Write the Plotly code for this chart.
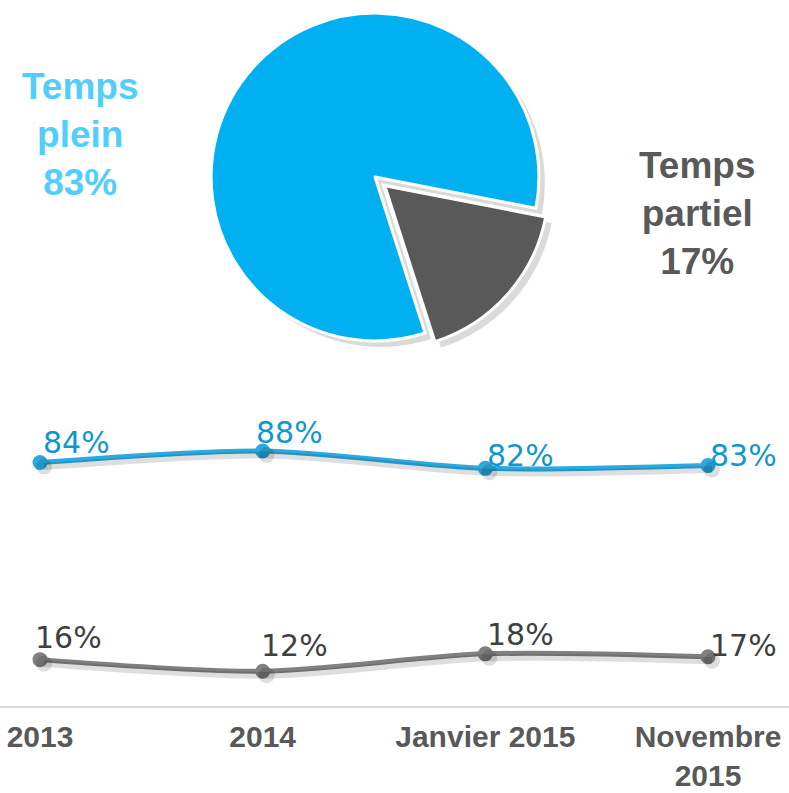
import plotly.graph_objects as go

# ---- data ----
pie_labels = ["Temps partiel", "Temps plein"]
pie_values = [17, 83]

periods = ["2013", "2014", "Janvier 2015", "Novembre<br>2015"]
plein = [84, 88, 82, 83]
partiel = [16, 12, 18, 17]

# label offsets (pixels) relative to each point: (dx to text left, dy to text cap-centre, up positive)
plein_offsets = [(3, 20), (-7, 18), (2, 13), (2, 10)]
partiel_offsets = [(-5, 22), (-2, 26), (2, 19), (2, 11)]

W, H = 789, 793
BLUE_PIE = "#00B0F0"
GRAY_PIE = "#595959"
BLUE_LINE = "#2AAAE0"
BLUE_TXT = "#1196CE"
GRAY_LINE = "#808080"
GRAY_TXT = "#404040"

def fx(px):
    return px / W

def fy(py):
    return (H - py) / H

fig = go.Figure()

# pie shadow
sh = 6
fig.add_trace(go.Pie(
    labels=pie_labels, values=pie_values, sort=False, direction="clockwise",
    rotation=101, pull=[0.08, 0], textinfo="none", hoverinfo="skip",
    marker=dict(colors=["#DADADA", "#DADADA"], line=dict(color="#DADADA", width=0)),
    domain=dict(x=[fx(195 + sh), fx(555 + sh)], y=[fy(354 + sh), fy(0 + sh)]),
    showlegend=False,
))
# main pie
fig.add_trace(go.Pie(
    labels=pie_labels, values=pie_values, sort=False, direction="clockwise",
    rotation=101, pull=[0.08, 0], textinfo="none",
    marker=dict(colors=[GRAY_PIE, BLUE_PIE], line=dict(color="white", width=3)),
    domain=dict(x=[fx(195), fx(555)], y=[fy(354), fy(0)]),
    showlegend=False,
))

# line shadows (on offset axes)
for vals in (plein, partiel):
    fig.add_trace(go.Scatter(
        x=periods, y=vals, mode="lines+markers", xaxis="x2", yaxis="y2",
        line=dict(color="rgba(0,0,0,0.13)", width=7, shape="spline", smoothing=0.8),
        marker=dict(size=16, color="rgba(0,0,0,0.13)"),
        hoverinfo="skip", showlegend=False, cliponaxis=False,
    ))

fig.add_trace(go.Scatter(
    x=periods, y=plein, mode="lines+markers",
    line=dict(color=BLUE_LINE, width=5, shape="spline", smoothing=0.8),
    marker=dict(size=15, color=BLUE_LINE),
    showlegend=False, cliponaxis=False,
))
fig.add_trace(go.Scatter(
    x=periods, y=partiel, mode="lines+markers",
    line=dict(color=GRAY_LINE, width=5, shape="spline", smoothing=0.8),
    marker=dict(size=15, color=GRAY_LINE),
    showlegend=False, cliponaxis=False,
))

label_font = dict(family="DejaVu Sans", size=30)
for vals, offs, col in ((plein, plein_offsets, BLUE_TXT), (partiel, partiel_offsets, GRAY_TXT)):
    for i, (v, (dx, dy)) in enumerate(zip(vals, offs)):
        fig.add_annotation(
            x=i, y=v, xref="x", yref="y", text=f"{v}%", showarrow=False,
            xanchor="left", yanchor="middle", xshift=dx - 1, yshift=dy,
            borderpad=0, font=dict(color=col, **label_font),
        )

# axes: category 0 at 40px, category 3 at 708px
step = (708 - 40) / 3
xlo = -40 / step
xhi = 3 + (W - 708) / step
y_bottom_px, y_top_px = 706, 416.2
ppu = (y_bottom_px - y_top_px) / 100
ydom = [fy(y_bottom_px), fy(y_top_px)]

fig.update_layout(
    width=W, height=H, margin=dict(l=0, r=0, t=0, b=0, autoexpand=False),
    paper_bgcolor="white", plot_bgcolor="rgba(0,0,0,0)",
    xaxis=dict(type="category", range=[xlo, xhi], showgrid=False, zeroline=False,
               showline=True, linecolor="#D9D9D9", linewidth=2, ticks="",
               ticklabelstandoff=3, automargin=False,
               tickfont=dict(family="Liberation Sans, Arial", size=30, color="#595959",
                             weight="bold")),
    yaxis=dict(range=[0, 100], domain=ydom, visible=False, fixedrange=True, automargin=False),
    xaxis2=dict(type="category", overlaying="x", anchor="y2",
                range=[xlo - 4 / step, xhi - 4 / step], visible=False),
    yaxis2=dict(overlaying="y", domain=ydom, anchor="x2",
                range=[4 / ppu, 100 + 4 / ppu], visible=False),
)

# pie labels
pie_label_pos = {"Temps plein": (80, 134, "#52CEFD"), "Temps partiel": (697, 214, "#595959")}
for lab, val in zip(pie_labels, pie_values):
    x, y, c = pie_label_pos[lab]
    fig.add_annotation(
        x=fx(x), y=fy(y), xref="paper", yref="paper", showarrow=False,
        text=lab.replace(" ", "<br>") + f"<br>{val}%", align="center",
        xanchor="center", yanchor="middle",
        font=dict(family="Liberation Sans, Arial", size=37, color=c, weight="bold"),
    )

fig.write_html(
    "out.html",
    config={"displayModeBar": False},
    post_script="document.body.style.margin='0';document.body.style.overflow='hidden';",
)
